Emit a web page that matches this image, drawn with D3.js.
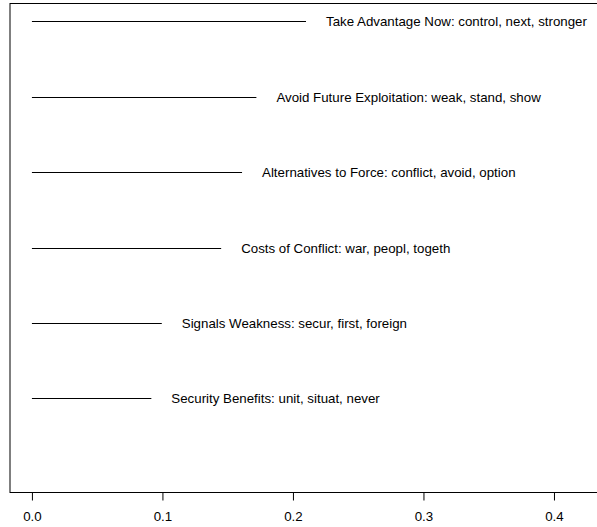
<!DOCTYPE html>
<html>
<head>
<meta charset="utf-8">
<script src="https://cdn.jsdelivr.net/npm/d3@7"></script>
<style>
  html, body { margin: 0; padding: 0; background: #fff; }
  svg { display: block; }
  text { font-family: "Liberation Sans", Arial, Helvetica, sans-serif; font-size: 13.3px; fill: #000; }
</style>
</head>
<body>
<svg id="chart" width="597" height="527"></svg>
<script>
// Topic labels (top to bottom) and their proportions
const topics = [
  "Take Advantage Now: control, next, stronger",
  "Avoid Future Exploitation: weak, stand, show",
  "Alternatives to Force: conflict, avoid, option",
  "Costs of Conflict: war, peopl, togeth",
  "Signals Weakness: secur, first, foreign",
  "Security Benefits: unit, situat, never"
];
const proportions = [0.210, 0.172, 0.161, 0.145, 0.0995, 0.0915];
const rowPositions = [7, 6, 5, 4, 3, 2];
const xTicks = [0.0, 0.1, 0.2, 0.3, 0.4];
const xTickLabels = ["0.0", "0.1", "0.2", "0.3", "0.4"];

const svg = d3.select("#chart");

// Plot region
const plotLeft = 10, plotTop = 3, plotBottom = 492, plotRight = 602;

const x = d3.scaleLinear().domain([-0.0168, 0.4368]).range([plotLeft, plotRight]);
const y = d3.scaleLinear().domain([0.76, 7.24]).range([plotBottom, plotTop]);

// Plot box
svg.append("rect")
  .attr("x", plotLeft)
  .attr("y", plotTop + 0.5)
  .attr("width", plotRight - plotLeft)
  .attr("height", plotBottom - plotTop)
  .attr("fill", "none")
  .attr("stroke", "#000")
  .attr("stroke-width", 1);

// Segments from zero to each proportion
const rows = topics.map((t, i) => ({ label: t, value: proportions[i], pos: rowPositions[i] }));

svg.append("g").selectAll("line")
  .data(rows)
  .join("line")
  .attr("x1", x(0))
  .attr("x2", d => x(d.value))
  .attr("y1", d => Math.round(y(d.pos)) + 0.5)
  .attr("y2", d => Math.round(y(d.pos)) + 0.5)
  .attr("stroke", "#000")
  .attr("stroke-width", 1);

// Topic labels to the right of each segment
svg.append("g").selectAll("text")
  .data(rows)
  .join("text")
  .attr("x", d => x(d.value) + 20)
  .attr("y", d => Math.round(y(d.pos)) + 0.5)
  .attr("dy", "0.35em")
  .text(d => d.label);

// Bottom axis
const axis = d3.axisBottom(x)
  .tickValues(xTicks)
  .tickFormat((d, i) => xTickLabels[i])
  .tickSize(8)
  .tickPadding(11);

const gx = svg.append("g")
  .attr("transform", `translate(0,${plotBottom + 0.5})`)
  .call(axis);

gx.select(".domain")
  .attr("d", `M${x(0)},0H${x(0.4)}`)
  .attr("stroke", "#000");
gx.selectAll(".tick line").attr("stroke", "#000");
gx.selectAll(".tick text")
  .attr("font-family", "Liberation Sans, Arial, Helvetica, sans-serif")
  .attr("font-size", 13.3)
  .attr("fill", "#000");
</script>
</body>
</html>
